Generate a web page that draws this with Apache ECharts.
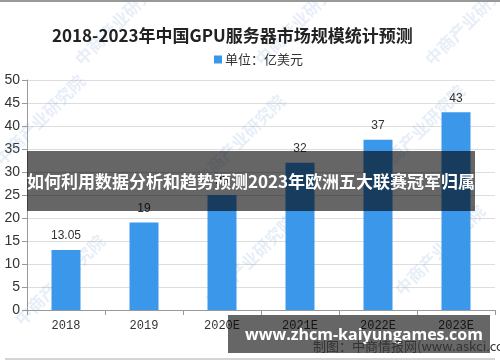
<!DOCTYPE html>
<html>
<head>
<meta charset="utf-8">
<script src="https://cdn.jsdelivr.net/npm/echarts@6/dist/echarts.min.js"></script>
<style>
html,body{margin:0;padding:0;background:#fff;}
#main{width:500px;height:362px;}
</style>
</head>
<body>
<div id="main"></div>
<script>
var categories = ['2018', '2019', '2020E', '2021E', '2022E', '2023E'];
var values = [13.05, 19, 25, 32, 37, 43];
var yTicks = [0, 5, 10, 15, 20, 25, 30, 35, 40, 45, 50];
var titleText = '2018-2023年中国GPU服务器市场规模统计预测';
var legendText = '单位：亿美元';
var bannerText = '如何利用数据分析和趋势预测2023年欧洲五大联赛冠军归属';
var siteText = 'www.zhcm-kaiyungames.com';
var sourceText = '制图：中商情报网(www.askci.com)';
var watermarkText = '中商产业研究院';

var chart = echarts.init(document.getElementById('main'));

var wmPositions = [[120, 20], [300, 20], [470, 20], [40, 120], [240, 140], [420, 130], [60, 280], [250, 260], [440, 250]];
var watermarks = wmPositions.map(function (p) {
  return {
    type: 'text', x: p[0], y: p[1], rotation: Math.PI / 4, z: 1,
    style: { text: watermarkText, fill: 'rgba(120,160,215,0.18)', font: 'bold 17px "Noto Sans CJK SC"', textAlign: 'center', textVerticalAlign: 'middle' }
  };
});

chart.setOption({
  backgroundColor: '#fff',
  animation: false,
  title: {
    text: titleText, left: 47, top: 22,
    textStyle: { fontFamily: '"Noto Sans CJK SC"', fontSize: 17, fontWeight: 'bold', color: '#222' }
  },
  legend: {
    data: [legendText], left: 209, top: 48, itemWidth: 8, itemHeight: 8, itemGap: 4,
    icon: 'rect',
    textStyle: { fontFamily: '"Noto Sans CJK SC"', fontSize: 13, color: '#333', padding: [0, 0, 0, -2] }
  },
  grid: { left: 27, right: 5, top: 80, bottom: 52, containLabel: false },
  xAxis: {
    type: 'category', data: categories,
    axisLine: { lineStyle: { color: '#999' } },
    axisTick: { show: true, length: 5, lineStyle: { color: '#999' } },
    axisLabel: { margin: 10, fontFamily: '"Liberation Mono"', fontSize: 12, color: '#333' }
  },
  yAxis: {
    type: 'value', min: yTicks[0], max: yTicks[yTicks.length - 1], interval: yTicks[1] - yTicks[0],
    axisLine: { show: true, lineStyle: { color: '#999' } },
    axisTick: { show: true, length: 5, lineStyle: { color: '#999' } },
    axisLabel: { margin: 7, fontFamily: '"Liberation Sans"', fontSize: 14, color: '#333' },
    splitLine: { lineStyle: { color: '#ddd' } }
  },
  series: [{
    name: legendText, type: 'bar', data: values, barWidth: 29,
    itemStyle: { color: '#3A97E9' },
    label: { show: true, position: 'top', distance: 8, fontFamily: '"Liberation Sans"', fontSize: 12, color: '#333' }
  }],
  graphic: watermarks.concat([
    { type: 'line', shape: { x1: 0, y1: 1, x2: 500, y2: 1 }, style: { stroke: '#999', lineWidth: 2 }, z: 5 },
    { type: 'line', shape: { x1: 5, y1: 359, x2: 495, y2: 359 }, style: { stroke: '#aaa', lineWidth: 1 }, z: 5 },
    { type: 'rect', shape: { x: 27, y: 151, width: 448, height: 60 }, style: { fill: 'rgba(0,0,0,0.6)' }, z: 100 },
    { type: 'text', x: 251, y: 182, z: 101,
      style: { text: bannerText, fill: '#fff', font: 'bold 17px "Noto Sans CJK SC"', textAlign: 'center', textVerticalAlign: 'middle' } },
    { type: 'rect', shape: { x: 228, y: 315, width: 262, height: 38 }, style: { fill: 'rgba(0,0,0,0.6)' }, z: 100 },
    { type: 'text', x: 364, y: 335, z: 101,
      style: { text: siteText, fill: '#fff', font: 'bold 16px "Open Sans"', textAlign: 'center', textVerticalAlign: 'middle' } },
    { type: 'text', x: 313, y: 346, z: 102,
      style: { text: sourceText, fill: '#333', font: '13px "Noto Sans CJK SC"', textAlign: 'left', textVerticalAlign: 'middle' } }
  ])
});
</script>
</body>
</html>
